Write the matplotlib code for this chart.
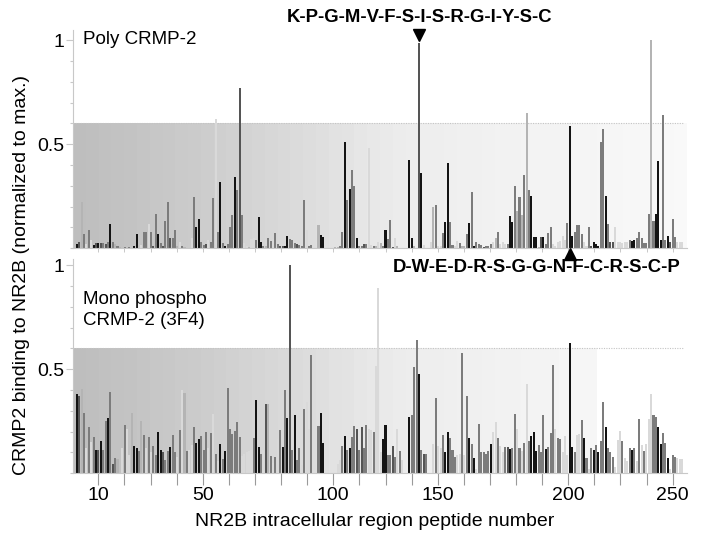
import numpy as np
import matplotlib
matplotlib.use("Agg")
import matplotlib.pyplot as plt

plt.rcParams['font.family'] = ['Liberation Sans', 'DejaVu Sans']

# ---------------- data ----------------
peptide_numbers = list(range(1, 255))

poly_crmp2 = [
    0.02, 0.03, 0.22, 0.07, 0.02, 0.09, 0.04, 0.015, 0.025, 0.025,
    0.025, 0.025, 0.02, 0.03, 0.115, 0.03, 0.02, 0.01, 0.005, 0.0,
    0.005, 0.0, 0.005, 0.0, 0.01, 0.07, 0.0, 0.015, 0.08, 0.08,
    0.115, 0.08, 0.01, 0.165, 0.07, 0.025, 0.01, 0.13, 0.22, 0.05,
    0.05, 0.09, 0.01, 0.03, 0.01, 0.005, 0.0, 0.0, 0.05, 0.245,
    0.1, 0.14, 0.03, 0.015, 0.02, 0.04, 0.03, 0.24, 0.62, 0.08,
    0.32, 0.025, 0.01, 0.02, 0.1, 0.16, 0.34, 0.28, 0.77, 0.16,
    0.025, 0.01, 0.008, 0.045, 0.05, 0.04, 0.15, 0.03, 0.01, 0.01,
    0.05, 0.035, 0.045, 0.075, 0.02, 0.01, 0.01, 0.01, 0.06, 0.045,
    0.04, 0.025, 0.02, 0.015, 0.01, 0.23, 0.09, 0.01, 0.015, 0.0,
    0.0, 0.11, 0.065, 0.055, 0.0, 0.0, 0.0, 0.0, 0.005, 0.005,
    0.01, 0.08, 0.51, 0.23, 0.285, 0.375, 0.30, 0.05, 0.01, 0.01,
    0.02, 0.02, 0.48, 0.015, 0.01, 0.01, 0.03, 0.025, 0.01, 0.09,
    0.045, 0.135, 0.005, 0.05, 0.01, 0.0, 0.0, 0.0, 0.0, 0.425,
    0.05, 0.01, 0.0, 0.985, 0.36, 0.015, 0.0, 0.0, 0.03, 0.2,
    0.21, 0.01, 0.01, 0.075, 0.125, 0.41, 0.125, 0.015, 0.01, 0.035,
    0.025, 0.01, 0.01, 0.07, 0.12, 0.27, 0.01, 0.03, 0.02, 0.015,
    0.005, 0.01, 0.01, 0.02, 0.03, 0.05, 0.08, 0.02, 0.03, 0.02,
    0.02, 0.155, 0.125, 0.30, 0.18, 0.245, 0.16, 0.35, 0.65, 0.28,
    0.25, 0.055, 0.055, 0.005, 0.055, 0.055, 0.02, 0.075, 0.1, 0.02,
    0.01, 0.03, 0.035, 0.06, 0.04, 0.12, 0.585, 0.06, 0.08, 0.11,
    0.11, 0.07, 0.03, 0.01, 0.1, 0.01, 0.03, 0.02, 0.01, 0.51,
    0.575, 0.25, 0.115, 0.03, 0.03, 0.1, 0.03, 0.03, 0.025, 0.03,
    0.03, 0.04, 0.035, 0.04, 0.05, 0.08, 0.05, 0.025, 0.025, 0.165,
    1.0, 0.13, 0.165, 0.42, 0.04, 0.64, 0.04, 0.06, 0.03, 0.14,
    0.056, 0.03, 0.03, 0.03,
]

mono_phospho_crmp2 = [
    0.38, 0.37, 0.405, 0.29, 0.12, 0.22, 0.15, 0.175, 0.11, 0.11,
    0.155, 0.11, 0.25, 0.265, 0.39, 0.045, 0.075, 0.07, 0.0, 0.12,
    0.23, 0.215, 0.09, 0.29, 0.13, 0.12, 0.105, 0.25, 0.185, 0.12,
    0.175, 0.1, 0.13, 0.09, 0.2, 0.11, 0.1, 0.065, 0.105, 0.125,
    0.185, 0.1, 0.08, 0.21, 0.4, 0.385, 0.105, 0.11, 0.135, 0.22,
    0.145, 0.165, 0.18, 0.11, 0.2, 0.12, 0.195, 0.285, 0.095, 0.06,
    0.14, 0.07, 0.105, 0.41, 0.215, 0.19, 0.205, 0.245, 0.175, 0.085,
    0.095, 0.1, 0.105, 0.11, 0.17, 0.35, 0.125, 0.095, 0.11, 0.335,
    0.335, 0.085, 0.05, 0.08, 0.165, 0.21, 0.125, 0.4, 0.265, 1.0,
    0.11, 0.28, 0.065, 0.12, 0.04, 0.31, 0.34, 0.215, 0.57, 0.0,
    0.0, 0.225, 0.29, 0.145, 0.0, 0.0, 0.0, 0.0, 0.0, 0.045,
    0.065, 0.13, 0.18, 0.11, 0.12, 0.175, 0.225, 0.215, 0.11, 0.22,
    0.12, 0.23, 0.215, 0.21, 0.2, 0.515, 0.89, 0.1, 0.165, 0.23,
    0.09, 0.09, 0.13, 0.08, 0.215, 0.105, 0.065, 0.0, 0.0, 0.27,
    0.28, 0.51, 0.64, 0.475, 0.11, 0.095, 0.095, 0.0, 0.0, 0.14,
    0.36, 0.13, 0.12, 0.185, 0.1, 0.2, 0.17, 0.11, 0.08, 0.09,
    0.095, 0.58, 0.09, 0.37, 0.17, 0.14, 0.075, 0.02, 0.235, 0.1,
    0.1, 0.095, 0.105, 0.14, 0.2, 0.245, 0.17, 0.13, 0.1, 0.125,
    0.125, 0.115, 0.12, 0.285, 0.215, 0.12, 0.105, 0.145, 0.43, 0.155,
    0.18, 0.2, 0.105, 0.135, 0.1, 0.28, 0.115, 0.125, 0.195, 0.52,
    0.215, 0.17, 0.165, 0.1, 0.18, 0.09, 0.625, 0.125, 0.1, 0.185,
    0.19, 0.255, 0.17, 0.075, 0.02, 0.12, 0.11, 0.135, 0.1, 0.155,
    0.34, 0.22, 0.12, 0.1, 0.08, 0.03, 0.16, 0.205, 0.155, 0.075,
    0.06, 0.12, 0.11, 0.12, 0.06, 0.26, 0.135, 0.105, 0.14, 0.26,
    0.38, 0.28, 0.27, 0.22, 0.14, 0.195, 0.145, 0.075, 0.02, 0.09,
    0.08, 0.075, 0.07, 0.07,
]

x_tick_labels = ['10', '50', '100', '150', '200', '250']
x_tick_label_slots = [0, 4, 9, 13, 18, 22]   # which of the 23 ticks carry a label

poly_label = 'Poly CRMP-2'
mono_label = 'Mono phospho\nCRMP-2 (3F4)'
poly_peptide_seq = 'K-P-G-M-V-F-S-I-S-R-G-I-Y-S-C'
mono_peptide_seq = 'D-W-E-D-R-S-G-G-N-F-C-R-S-C-P'
poly_marked_peptide = 144
mono_marked_peptide = 207
threshold = 0.6

# ---------------- styles (bar shades) ----------------
shade_colors = {'k': '#141414', 'd': '#555555', 'g': '#7c7c7c',
                'l': '#b4b4b4', 'w': '#d9d9d9'}
poly_shades = ("kdlgwgwkdk" "dgdgkglglg" "glglkkgwgg" "wgdgkgdggd" "gglwglglwg"
               "kkggdwggwg" "kgkgggkgdg" "wwlwwgkkgl" "ggwggddkkg" "ggdgggwggl"
               "llkkllllll" "ggkgkggkgg" "dgwwglwlgk" "ggdwlllllk" "klldkwllwl"
               "gwwgkkggww" "gllgkgkggg" "dgggwlgwww" "gkkglglglg" "kkkldkgggw"
               "wwwwwgkkgg" "ggwwgdkkkg" "gkgddwwwww" "wgkkgggggg" "lgkkkggkdg"
               "gwww")
mono_shades = ("kdlgwgwgkd" "kggkgdgllw" "gwwlkkglgw" "gwggkkdggk" "ggwgwlgwwg"
               "kkgggwgwgw" "kgkggggggw" "wwwwgkkgwd" "lgwgwgkgkd" "gkggwgwwgw"
               "wgkkwwwwww" "wgkgkggdgd" "ggwwgwwwkk" "ggdgwgwwwk" "gggkgdgwww"
               "gwwgkkgggw" "wgwgkgkwgg" "gggkwwgwwg" "dkggwgwgwg" "kkkgggkggg"
               "wggwwwkkgw" "wgkgwgkgkg" "gkgggwwwgw" "wgkgwgwgww" "wggkkggkwg"
               "gwww")

W, H = 703, 542
fig = plt.figure(figsize=(W / 100, H / 100), dpi=100)

x_lo, x_hi = -0.6, 256.0
ax1 = fig.add_axes([73 / W, 1 - 248.3 / H, 614 / W, (248.3 - 29.6) / H])
ax2 = fig.add_axes([73 / W, 1 - 473.3 / H, 614 / W, (473.3 - 258.8) / H])


def background(ax, stops_t, grays, nbands=48):
    t = (np.arange(nbands) + 0.5) / nbands
    vals = np.interp(t, stops_t, grays)
    ax.imshow(vals[np.newaxis, :], extent=[x_lo, x_hi, 0, threshold],
              aspect='auto', cmap='gray', vmin=0, vmax=1,
              interpolation='nearest', zorder=0)


background(ax1, [0, 0.21, 0.37, 0.53, 0.69, 0.86, 1.0],
           [0.74, 0.80, 0.86, 0.925, 0.945, 0.962, 0.975])
background(ax2, [0, 0.21, 0.37, 0.53, 0.69, 0.855, 0.86, 1.0],
           [0.74, 0.80, 0.86, 0.925, 0.945, 0.965, 1.0, 1.0])

ticks23 = np.linspace(10, 250, 23)

for ax, vals, shades, ytop in [(ax1, poly_crmp2, poly_shades, 1.05),
                                (ax2, mono_phospho_crmp2, mono_shades, 1.03)]:
    cols = [shade_colors[c] for c in shades]
    ax.bar(peptide_numbers, vals, width=0.85, color=cols, linewidth=0, zorder=2)
    ax.axhline(threshold, xmin=0, xmax=(254.3 - x_lo) / (x_hi - x_lo),
               color='#c4c4c4', lw=0.8, ls=(0, (1, 1.2)), zorder=1)
    ax.set_xlim(x_lo, x_hi)
    ax.set_ylim(0, ytop)
    for s in ('top', 'right'):
        ax.spines[s].set_visible(False)
    for s in ('left', 'bottom'):
        ax.spines[s].set_color('#c8c8c8')
        ax.spines[s].set_linewidth(0.8)
    ax.spines['left'].set_bounds(0, ytop)
    ax.set_yticks([0.5, 1.0])
    ax.set_yticklabels(['0.5', '1'])
    ax.set_yticks(np.arange(0, 1.01, 0.1), minor=True)
    ax.tick_params(axis='y', which='major', length=5, width=0.8,
                   color='#c8c8c8', labelsize=14, pad=1)
    ax.tick_params(axis='y', which='minor', length=2.5, width=0.8,
                   color='#c8c8c8')
    ax.set_xticks(ticks23)

ax1.tick_params(axis='x', which='major', length=3, width=0.7,
                color='#c8c8c8', labelbottom=False)
labels = [''] * len(ticks23)
for slot, lab in zip(x_tick_label_slots, x_tick_labels):
    labels[slot] = lab
ax2.set_xticklabels(labels)
ax2.tick_params(axis='x', which='major', length=8.5, width=0.8,
                color='#9a9a9a', labelsize=14, pad=1.5)

# markers for the highlighted peptides
ax1.plot([poly_marked_peptide], [1.024], marker='v', color='black',
         markersize=8, clip_on=False, zorder=5, ls='none')
ax2.plot([mono_marked_peptide], [1.053], marker='^', color='black',
         markersize=8, clip_on=False, zorder=5, ls='none')

fig.text(83 / W, 1 - 40 / H, poly_label, fontsize=13.5, va='center', ha='left')
fig.text(83 / W, 1 - 310 / H, mono_label, fontsize=13.5, va='center',
         ha='left', linespacing=1.3)
fig.text(420 / W, 1 - 17 / H, poly_peptide_seq, fontsize=13.3,
         fontweight='bold', ha='center', va='center')
fig.text(536.5 / W, 1 - 267 / H, mono_peptide_seq, fontsize=13.3,
         fontweight='bold', ha='center', va='center')
fig.text(375 / W, 1 - 521 / H, 'NR2B intracellular region peptide number',
         fontsize=14, ha='center', va='center')
fig.text(22 / W, 1 - 275 / H, 'CRMP2 binding to NR2B (normalized to max.)',
         fontsize=14, ha='center', va='center', rotation=90)

fig.savefig('out.png', dpi=100)
